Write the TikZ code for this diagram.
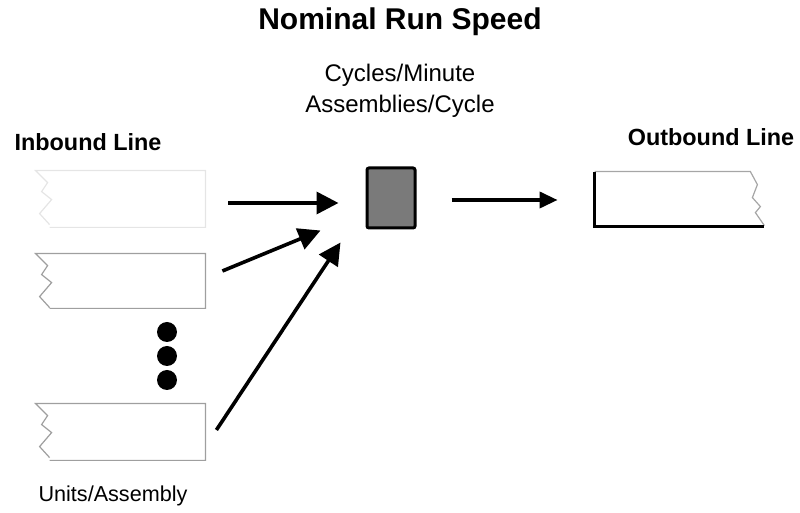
\documentclass[tikz,border=0pt]{standalone}
\usepackage{fontspec}
\setmainfont{Liberation Sans}
\usetikzlibrary{arrows.meta}

% left edge torn off (inbound slots)
\newcommand{\tornleft}[2]{%
  \draw[#2] ([xshift=7pt]#1.south west) -- (#1.south east) -- (#1.north east)
    -- (#1.north west) -- ++(12,12) -- ++(-6,9) -- ++(10,8) -- ++(-12,14)
    -- ++(10,11);
}

\begin{document}
\begin{tikzpicture}[
    x=0.5pt, y=-0.5pt,
    slot/.style = {
      shape=rectangle,
      minimum width=84.5pt,
      minimum height=27pt,
      inner sep=0pt
    },
    machine/.style = {
      shape=rectangle,
      draw=black,
      line width=1.5pt,
      rounded corners=1pt,
      fill=black!52,
      minimum width=24pt,
      minimum height=30pt
    },
    dot/.style = {
      shape=circle,
      fill=black,
      minimum size=10pt,
      inner sep=0pt
    },
    heading/.style = {font=\bfseries\fontsize{15}{18}\selectfont},
    linename/.style = {font=\bfseries\fontsize{11.7}{14}\selectfont},
    rate/.style = {font=\fontsize{12}{15.5}\selectfont, align=center},
    flow/.style = {line width=1.8pt, -{Triangle[length=11pt,width=11pt]}},
    every node/.style = {inner sep=0pt}
  ]
    \useasboundingbox (0,0) rectangle (800,513);

    % texts
    \node[heading] (title) at (400,22) {Nominal Run Speed};
    \node[rate] (rates) at (400,91) {Cycles/Minute\\Assemblies/Cycle};
    \node[linename] (inlabel) at (88,142) {Inbound Line};
    \node[linename] (outlabel) at (711,137) {Outbound Line};
    \node[font=\fontsize{10.8}{13}\selectfont] (units) at (113,496) {Units/Assembly};

    % inbound slots
    \node[slot, minimum height=28pt] (in1) at (120.5,199) {};
    \node[slot] (in2) at (120.5,281) {};
    \node[slot, minimum height=28pt] (in3) at (120.5,432) {};
    \tornleft{in1}{gray!20, line width=0.6pt}
    \tornleft{in2}{gray!75, line width=0.6pt}
    \tornleft{in3}{gray!75, line width=0.6pt}

    \node[dot] (d1) at (167,332) {};
    \node[dot] (d2) at (167,356) {};
    \node[dot] (d3) at (167,380) {};

    % station
    \node[machine] (mach) at (391,198) {};

    % outbound slot, right edge torn off
    \node[slot] (out) at (679.5,199) {};
    \draw[gray!70, line width=0.6pt] (out.north west) -- ([xshift=-7pt]out.north east)
      -- ++(7,13) -- ++(-5,13) -- ++(8,9) -- ++(-5,6) -- ++(9,13);
    \draw[black, line width=1.2pt] (out.north west) -- (out.south west) -- (out.south east);

    % flows
    \draw[flow] ([xshift=11.5pt,yshift=-2pt]in1.east) -- ([xshift=-13.5pt,yshift=-2.5pt]mach.west);
    \draw[flow] ([xshift=8.5pt,yshift=5pt]in2.east) -- ([xshift=-22.5pt,yshift=-0.5pt]mach.south west);
    \draw[flow] ([xshift=5.5pt,yshift=1pt]in3.east) -- ([xshift=-12.5pt,yshift=-6.5pt]mach.south west);
    \draw[flow, -{Triangle[length=9pt,width=8pt]}] ([xshift=17.5pt,yshift=-1pt]mach.east) -- ([xshift=-18.5pt,yshift=-0.5pt]out.west);
\end{tikzpicture}
\end{document}
